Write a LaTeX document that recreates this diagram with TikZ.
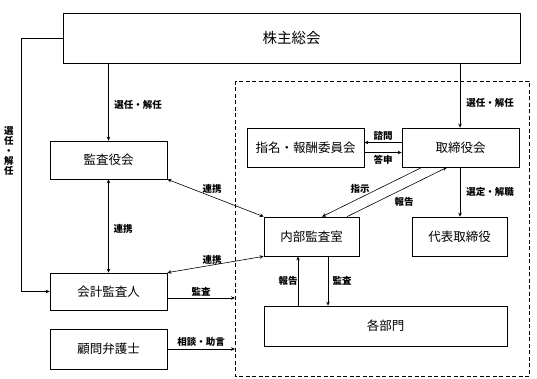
\documentclass[tikz,border=0pt]{standalone}
\usepackage{fontspec}
\setmainfont{Noto Sans CJK JP}
\usetikzlibrary{arrows.meta}
\begin{document}
\begin{tikzpicture}[x=1pt,y=-1pt,
  box/.style={draw,line width=0.7pt,inner sep=0pt,font=\fontsize{12.5}{14}\selectfont},
  lbl/.style={font=\fontsize{9.5}{11}\selectfont\bfseries,inner sep=0pt},
  conn/.style={line width=0.6pt,-{Stealth[length=4pt,width=3.5pt]}},
  both/.style={line width=0.6pt,{Stealth[length=4pt,width=3.5pt]}-{Stealth[length=4pt,width=3.5pt]}}]
\useasboundingbox (0,0) rectangle (537,379);
% dashed area
\draw[dash pattern=on 4pt off 2.5pt,line width=0.7pt] (235,81) rectangle (529,376);
\coordinate (dl) at (235,81);
% nodes
\node[box,minimum width=457pt,minimum height=50pt,font=\fontsize{14.5}{16}\selectfont] (kabu) at (291.5,38) {株主総会};
\node[box,minimum width=117pt,minimum height=38pt] (kansa) at (108.5,160) {監査役会};
\node[box,minimum width=117pt,minimum height=37pt] (kaikei) at (108.5,291.5) {会計監査人};
\node[box,minimum width=117pt,minimum height=40pt] (komon) at (108.5,349) {顧問弁護士};
\node[box,minimum width=117pt,minimum height=39pt] (shimei) at (305.5,147.5) {指名・報酬委員会};
\node[box,minimum width=117pt,minimum height=39pt] (tori) at (460.5,147.5) {取締役会};
\node[box,minimum width=95pt,minimum height=39pt] (naibu) at (311.5,236.5) {内部監査室};
\node[box,minimum width=95pt,minimum height=39pt] (daihyo) at (459.5,236.5) {代表取締役};
\node[box,minimum width=243pt,minimum height=40pt] (kakubu) at (385.5,326) {各部門};
% connectors
\draw[conn] (kansa.north |- kabu.south) -- (kansa.north);
\draw[conn] (460,0 |- kabu.south) -- (460,0 |- tori.north);
\draw[conn] (kabu.west) -- ++(-41,0) |- (kaikei.west);
\draw[both] (kansa.south) -- (kaikei.north);
\draw[both] (kansa.south east) -- (naibu.north west);
\draw[both] (kaikei.north east) -- (naibu.south west);
\draw[conn] ([yshift=-6.5pt]kaikei.east) -- ([yshift=-6.5pt]kaikei.east -| dl);
\draw[conn] (komon.east) -- (komon.east -| dl);
\draw[conn] ([yshift=5pt]tori.west) -- ([yshift=5pt]shimei.east);
\draw[conn] ([yshift=-5pt]shimei.east) -- ([yshift=-5pt]tori.west);
\draw[conn] (tori.south -| 422,0) -- (naibu.north -| 322,0);
\draw[conn] (naibu.north -| 347,0) -- (tori.south -| 447,0);
\draw[conn] (tori.south -| 460,0) -- (daihyo.north -| 460,0);
\draw[conn] (kakubu.north -| 298,0) -- (naibu.south -| 298,0);
\draw[conn] (naibu.south -| 328,0) -- (kakubu.north -| 328,0);
% labels
\node[lbl] (l1) at (138,105) {選任・解任};
\node[lbl] (l2) at (490,103) {選任・解任};
\node[lbl,align=center,font=\fontsize{9.5}{10}\selectfont\bfseries] (l3) at (9,151) {選\\任\\・\\解\\任};
\node[lbl] (l4) at (123,229) {連携};
\node[lbl] (l5) at (212,189) {連携};
\node[lbl] (l6) at (212,260) {連携};
\node[lbl] (l7) at (201,292) {監査};
\node[lbl] (l8) at (201,342) {相談・助言};
\node[lbl] (l9) at (383,136) {諮問};
\node[lbl] (l10) at (383,160) {答申};
\node[lbl] (l11) at (360,189) {指示};
\node[lbl] (l12) at (404,202) {報告};
\node[lbl] (l13) at (490,192) {選定・解職};
\node[lbl] (l14) at (288,281) {報告};
\node[lbl] (l15) at (342,281) {監査};
\end{tikzpicture}
\end{document}
